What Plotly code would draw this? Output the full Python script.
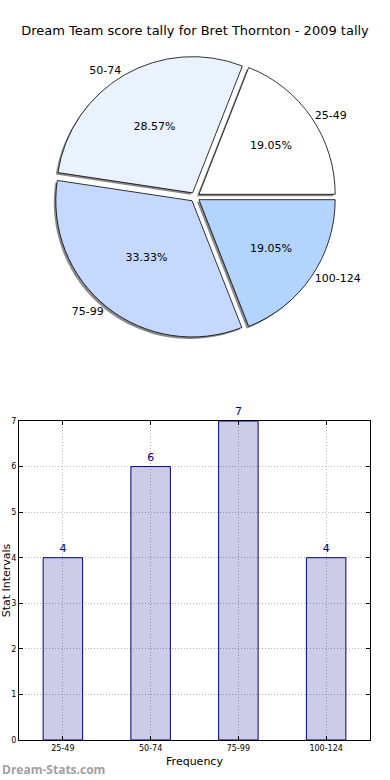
import plotly.graph_objects as go

# Data
categories = ["25-49", "50-74", "75-99", "100-124"]
counts = [4, 6, 7, 4]
pie_colors = ["#FFFFFF", "#EAF1FF", "#C5D8FF", "#B2D4FF"]
title_text = "Dream Team score tally for Bret Thornton - 2009 tally"
y_ticks = [0, 1, 2, 3, 4, 5, 6, 7]

W, H = 390, 780
FONT = "DejaVu Sans"

# pie geometry (pixels)
cx, cy, half = 195, 197, 141
pull = 0.035
# first slice starts at 3 o'clock and runs counterclockwise
rotation = 90 - 360 * counts[0] / sum(counts)

def dom(dx=0, dy=0):
    return dict(x=[(cx - half + dx) / W, (cx + half + dx) / W],
                y=[1 - (cy + half + dy) / H, 1 - (cy - half + dy) / H])

common = dict(labels=categories, values=counts, sort=False, direction="counterclockwise",
              rotation=rotation, pull=[pull] * len(counts), showlegend=False)

fig = go.Figure()
# shadow
fig.add_trace(go.Pie(**common, domain=dom(-2, 2), textinfo="none", hoverinfo="skip",
                     marker=dict(colors=["#8a8a8a"] * 4, line=dict(width=0))))
# main pie with percentages
fig.add_trace(go.Pie(**common, domain=dom(), texttemplate="%{percent:.2%}", textposition="inside",
                     insidetextorientation="horizontal",
                     textfont=dict(family=FONT, size=11, color="black"),
                     marker=dict(colors=pie_colors, line=dict(color="black", width=0.8))))
# outside labels
fig.add_trace(go.Pie(**common, domain=dom(), textinfo="label", textposition="outside",
                     hoverinfo="skip", outsidetextfont=dict(family=FONT, size=11, color="black"),
                     marker=dict(colors=["rgba(0,0,0,0)"] * 4, line=dict(width=0))))

# bar chart
fig.add_trace(go.Bar(x=categories, y=counts, width=0.45, text=counts, textposition="outside",
                     cliponaxis=False, showlegend=False,
                     textfont=dict(family=FONT, size=11, color="navy"),
                     marker=dict(color="rgba(0,0,128,0.2)", line=dict(color="navy", width=1))))

axis_common = dict(showline=True, linecolor="black", linewidth=1, mirror="ticks",
                   ticks="inside", ticklen=4, tickcolor="black", automargin=False,
                   showgrid=True, gridcolor="#b4b4b4", griddash="1px,2px", gridwidth=1,
                   tickfont=dict(family=FONT, size=8, color="black"), zeroline=False)

fig.update_layout(
    width=W, height=H, paper_bgcolor="white", plot_bgcolor="white",
    margin=dict(l=0, r=0, t=0, b=0),
    font=dict(family=FONT, color="black"),
    title=dict(text=title_text, x=0.5, xanchor="center", y=1 - 30 / H, yanchor="middle",
               font=dict(family=FONT, size=13, color="black"), automargin=False),
    xaxis=dict(domain=[19 / W, 370 / W], range=[-0.5, 3.5], type="category",
               title=dict(text="Frequency", font=dict(family=FONT, size=11), standoff=5),
               **axis_common),
    yaxis=dict(domain=[40 / H, 359 / H], range=[0, 7], tickvals=y_ticks,
               title=dict(text="Stat Intervals", font=dict(family=FONT, size=11), standoff=0),
               **axis_common),
    annotations=[dict(text="<b>Dream-Stats.com</b>", xref="paper", yref="paper", x=0, y=0,
                      xanchor="left", yanchor="bottom", showarrow=False,
                      font=dict(family="Open Sans", size=12, color="#a0a0a0"))],
)

fig.write_html("out.html", config={"displayModeBar": False},
               post_script="document.body.style.margin='0';document.body.style.overflow='hidden';")
